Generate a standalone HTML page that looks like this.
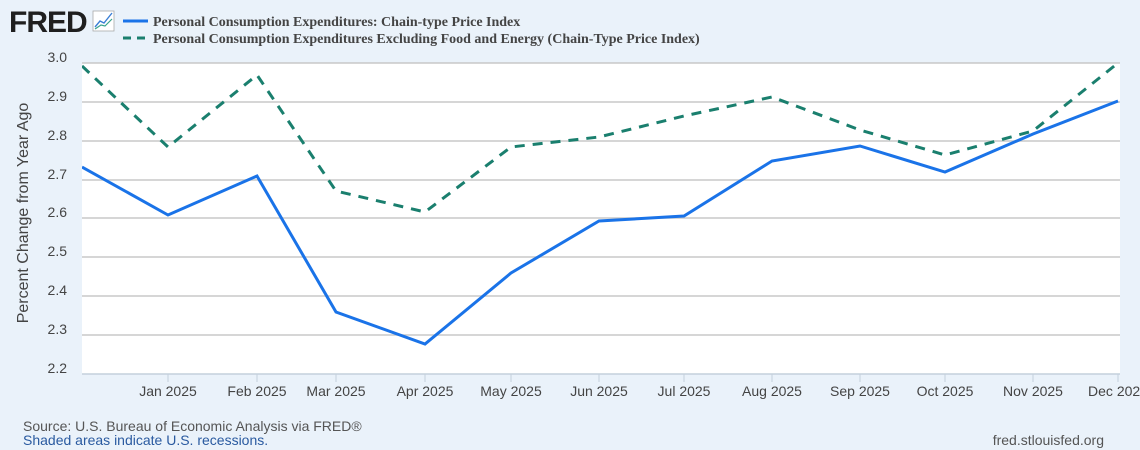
<!DOCTYPE html>
<html><head><meta charset="utf-8"><style>
body{margin:0;background:#eaf2fa;width:1140px;height:450px;overflow:hidden;font-family:"Liberation Sans",sans-serif}
</style></head><body>
<svg width="1140" height="450" xmlns="http://www.w3.org/2000/svg" style="position:absolute;left:0;top:0">
<rect width="1140" height="450" fill="#eaf2fa"/>
<text x="9" y="32" font-family="Liberation Sans" font-weight="bold" font-size="30" fill="#1f1f1f" letter-spacing="-1">FRED</text>
<rect x="93" y="11" width="21" height="20" fill="#fff" stroke="#aaa" stroke-width="0.8"/>
<polyline points="95,27 100,21 104,23 112,13" fill="none" stroke="#3b7fd6" stroke-width="1.4"/>
<polyline points="95,29 101,25 105,26 112,19" fill="none" stroke="#3aa38c" stroke-width="1.2"/>
<line x1="123" y1="21" x2="148" y2="21" stroke="#1a73e8" stroke-width="3"/>
<line x1="123" y1="38" x2="148" y2="38" stroke="#1a7f6e" stroke-width="3" stroke-dasharray="8,6"/>
<text x="153" y="26" font-family="Liberation Serif" font-weight="bold" font-size="14" fill="#444">Personal Consumption Expenditures: Chain-type Price Index</text>
<text x="153" y="43" font-family="Liberation Serif" font-weight="bold" font-size="14" fill="#444">Personal Consumption Expenditures Excluding Food and Energy (Chain-Type Price Index)</text>
<rect x="82" y="63" width="1038" height="311" fill="#fff"/>
<g stroke="#c8c8c8" stroke-width="1.5">
<line x1="82" y1="63" x2="1120" y2="63"/><line x1="82" y1="102" x2="1120" y2="102"/><line x1="82" y1="141" x2="1120" y2="141"/><line x1="82" y1="180" x2="1120" y2="180"/><line x1="82" y1="218" x2="1120" y2="218"/><line x1="82" y1="257" x2="1120" y2="257"/><line x1="82" y1="296" x2="1120" y2="296"/><line x1="82" y1="335" x2="1120" y2="335"/>
</g>
<line x1="82" y1="374" x2="1120" y2="374" stroke="#c4d0dc" stroke-width="1.5"/>
<g stroke="#c4d0dc" stroke-width="1">
<line x1="168" y1="374" x2="168" y2="382"/><line x1="257" y1="374" x2="257" y2="382"/><line x1="336" y1="374" x2="336" y2="382"/><line x1="425" y1="374" x2="425" y2="382"/><line x1="511" y1="374" x2="511" y2="382"/><line x1="599" y1="374" x2="599" y2="382"/><line x1="684" y1="374" x2="684" y2="382"/><line x1="772" y1="374" x2="772" y2="382"/><line x1="860" y1="374" x2="860" y2="382"/><line x1="945" y1="374" x2="945" y2="382"/><line x1="1033" y1="374" x2="1033" y2="382"/><line x1="1118" y1="374" x2="1118" y2="382"/>
</g>
<g font-size="14" fill="#444" text-anchor="end">
<text x="67" y="62">3.0</text><text x="67" y="101">2.9</text><text x="67" y="140">2.8</text><text x="67" y="179">2.7</text><text x="67" y="217">2.6</text><text x="67" y="256">2.5</text><text x="67" y="295">2.4</text><text x="67" y="334">2.3</text><text x="67" y="373">2.2</text>
</g>
<g font-size="14" fill="#444" text-anchor="middle">
<text x="168" y="396">Jan 2025</text><text x="257" y="396">Feb 2025</text><text x="336" y="396">Mar 2025</text><text x="425" y="396">Apr 2025</text><text x="511" y="396">May 2025</text><text x="599" y="396">Jun 2025</text><text x="684" y="396">Jul 2025</text><text x="772" y="396">Aug 2025</text><text x="860" y="396">Sep 2025</text><text x="945" y="396">Oct 2025</text><text x="1033" y="396">Nov 2025</text><text x="1118" y="396">Dec 2025</text>
</g>
<text transform="translate(28,213) rotate(-90)" font-size="16" fill="#444" text-anchor="middle">Percent Change from Year Ago</text>
<svg x="82" y="60" width="1038" height="318" overflow="hidden">
<g transform="translate(-82,-60)">
<polyline fill="none" stroke="#1a7f6e" stroke-width="3" stroke-dasharray="10,8" points="82,66 168,147 257,75 336,191 425,212 511,147 599,137 684,116 772,97 860,130 945,155 1033,131 1118,63"/>
<polyline fill="none" stroke="#1a73e8" stroke-width="3" points="82,167 168,215 257,176 336,312 425,344 511,273 599,221 684,216 772,161 860,146 945,172 1033,134 1118,101"/>
</g></svg>
<text x="23" y="431" font-size="14" fill="#555">Source: U.S. Bureau of Economic Analysis via FRED®</text>
<text x="23" y="445" font-size="14" fill="#2a5aa0">Shaded areas indicate U.S. recessions.</text>
<text x="1104" y="445" font-size="14" fill="#555" text-anchor="end">fred.stlouisfed.org</text>
</svg>
</body></html>
